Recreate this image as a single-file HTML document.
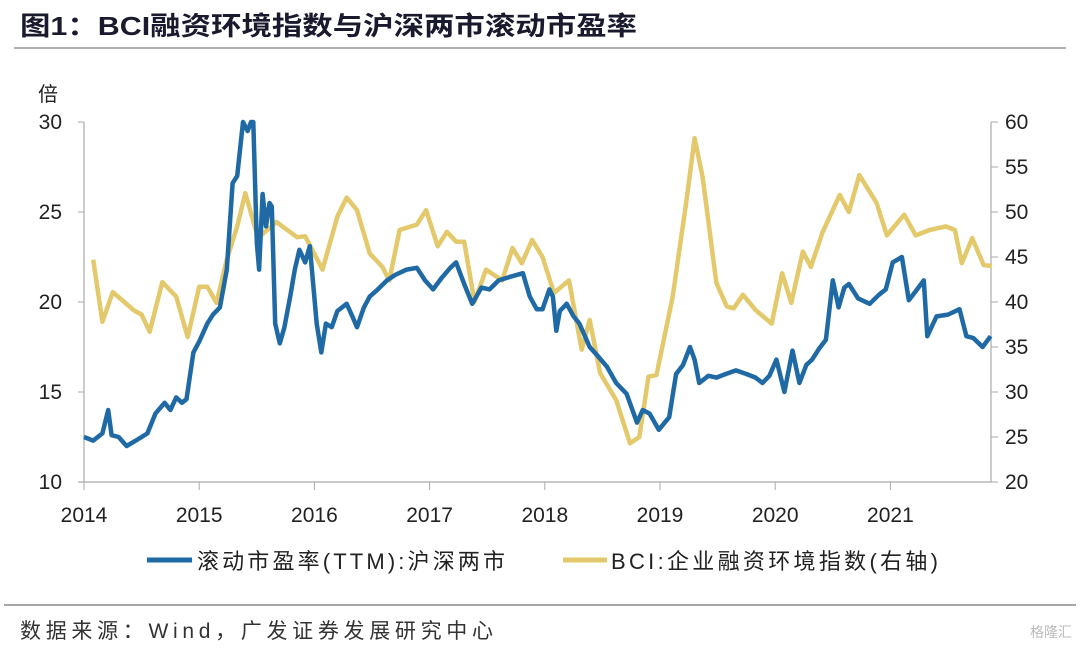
<!DOCTYPE html>
<html><head><meta charset="utf-8"><style>
body{margin:0;background:#fff;width:1080px;height:651px;overflow:hidden;font-family:"Liberation Sans","Noto Sans CJK SC",sans-serif;}
svg text{font-family:"Liberation Sans","Noto Sans CJK SC",sans-serif;}
</style></head><body>
<svg id="c" width="1080" height="651">
<text x="20" y="35" font-size="26" font-weight="bold" fill="#1a1a2e" textLength="617" lengthAdjust="spacingAndGlyphs">图1：BCI融资环境指数与沪深两市滚动市盈率</text>
<line x1="14" y1="48" x2="1066" y2="48" stroke="#999" stroke-width="1.5"/>
<text x="48" y="101" font-size="20" text-anchor="middle" fill="#222">倍</text>
<g id="axes"></g>
<g id="series"></g>
<line x1="147" y1="560" x2="192" y2="560" stroke="#1f6aa5" stroke-width="5"/>
<text x="197" y="569" font-size="22" fill="#222" textLength="308" lengthAdjust="spacing">滚动市盈率(TTM):沪深两市</text>
<line x1="563" y1="560" x2="607" y2="560" stroke="#e3c96b" stroke-width="5"/>
<text x="611" y="569" font-size="22" fill="#222" textLength="327" lengthAdjust="spacing">BCI:企业融资环境指数(右轴)</text>
<line x1="4" y1="605" x2="1076" y2="605" stroke="#888" stroke-width="1.5"/>
<text x="20" y="638" font-size="21" fill="#333" textLength="473" lengthAdjust="spacing">数据来源：Wind，广发证券发展研究中心</text>
<text x="1030" y="637" font-size="14" fill="#bbb">格隆汇</text>
</svg>
<script>
const yearTicks=[2014,2015,2016,2017,2018,2019,2020,2021];
const leftTicks=[10,15,20,25,30];
const rightTicks=[20,25,30,35,40,45,50,55,60];
const peDates=[2014.0,2014.08,2014.16,2014.21,2014.24,2014.3,2014.37,2014.45,2014.55,2014.62,2014.7,2014.75,2014.8,2014.85,2014.89,2014.95,2015.0,2015.07,2015.12,2015.18,2015.24,2015.29,2015.33,2015.38,2015.42,2015.45,2015.47,2015.5,2015.52,2015.55,2015.58,2015.61,2015.63,2015.66,2015.7,2015.74,2015.79,2015.83,2015.87,2015.92,2015.96,2016.02,2016.06,2016.1,2016.15,2016.2,2016.28,2016.33,2016.37,2016.43,2016.48,2016.55,2016.63,2016.7,2016.8,2016.89,2016.96,2017.03,2017.1,2017.18,2017.23,2017.3,2017.37,2017.45,2017.52,2017.6,2017.7,2017.81,2017.87,2017.93,2017.98,2018.04,2018.07,2018.1,2018.13,2018.19,2018.25,2018.3,2018.39,2018.46,2018.54,2018.62,2018.71,2018.8,2018.85,2018.91,2018.99,2019.08,2019.14,2019.2,2019.26,2019.3,2019.34,2019.42,2019.49,2019.57,2019.66,2019.75,2019.83,2019.89,2019.95,2020.01,2020.08,2020.15,2020.21,2020.27,2020.32,2020.38,2020.44,2020.5,2020.55,2020.6,2020.64,2020.72,2020.82,2020.9,2020.96,2021.02,2021.1,2021.16,2021.22,2021.29,2021.32,2021.4,2021.5,2021.6,2021.66,2021.72,2021.8,2021.87];
const peValues=[12.5,12.3,12.7,14.0,12.6,12.5,12.0,12.3,12.7,13.8,14.4,14.0,14.7,14.4,14.6,17.2,17.8,18.8,19.3,19.7,21.8,26.6,27.0,30.2,29.5,30.2,30.0,23.3,21.8,26.0,24.2,25.5,25.3,18.8,17.7,18.6,20.3,21.8,22.9,22.2,23.1,18.8,17.2,18.8,18.6,19.5,19.9,19.2,18.6,19.7,20.3,20.7,21.2,21.5,21.8,21.9,21.2,20.7,21.3,21.9,22.2,21.0,19.9,20.8,20.7,21.2,21.4,21.6,20.3,19.6,19.6,20.7,20.3,18.4,19.5,19.9,19.2,18.8,17.5,17.0,16.4,15.5,14.9,13.3,14.0,13.8,12.9,13.6,16.0,16.5,17.5,16.8,15.5,15.9,15.8,16.0,16.2,16.0,15.8,15.5,15.9,16.8,15.0,17.3,15.5,16.5,16.8,17.4,17.9,21.2,19.7,20.8,21.0,20.2,19.9,20.4,20.7,22.2,22.5,20.1,20.6,21.2,18.1,19.2,19.3,19.6,18.1,18.0,17.5,18.1];
const bciDates=[2014.08,2014.16,2014.25,2014.35,2014.43,2014.5,2014.57,2014.68,2014.8,2014.9,2015.0,2015.07,2015.15,2015.24,2015.33,2015.4,2015.51,2015.67,2015.85,2015.92,2016.07,2016.2,2016.28,2016.37,2016.48,2016.59,2016.65,2016.74,2016.89,2016.97,2017.07,2017.15,2017.23,2017.3,2017.39,2017.49,2017.63,2017.72,2017.8,2017.89,2017.98,2018.08,2018.21,2018.32,2018.39,2018.48,2018.62,2018.74,2018.82,2018.9,2018.97,2019.11,2019.23,2019.3,2019.37,2019.49,2019.58,2019.64,2019.72,2019.83,2019.97,2020.06,2020.14,2020.24,2020.31,2020.41,2020.56,2020.64,2020.73,2020.88,2020.97,2021.12,2021.22,2021.34,2021.48,2021.56,2021.62,2021.71,2021.81,2021.88];
const bciValues=[44.7,37.8,41.1,40.0,39.1,38.6,36.7,42.2,40.6,36.1,41.7,41.7,39.9,44.7,48.4,52.1,47.1,48.9,47.2,47.3,43.6,49.5,51.6,50.2,45.4,43.9,42.4,48.0,48.6,50.2,46.2,47.8,46.7,46.7,40.0,43.6,42.4,46.0,44.3,46.9,45.0,41.0,42.4,34.7,38.0,32.1,29.1,24.3,25.0,31.7,31.9,40.6,51.3,58.2,53.9,42.1,39.5,39.3,40.8,39.1,37.6,43.2,39.9,45.6,43.9,47.7,51.9,50.0,54.1,51.0,47.4,49.7,47.4,48.0,48.4,48.0,44.3,47.1,44.1,44.0];

const NS='http://www.w3.org/2000/svg';
const X0=84,Y0=482,YT=122;
const xs=d=>X0+(d-2014)*115.2;
const yl=v=>Y0-(v-10)*(Y0-YT)/20;
const yr=v=>Y0-(v-20)*(Y0-YT)/40;
function mk(tag,attrs,parent){const e=document.createElementNS(NS,tag);for(const k in attrs)e.setAttribute(k,attrs[k]);parent.appendChild(e);return e;}
const ax=document.getElementById('axes');
const g=document.getElementById('series');
let e;
e=mk('line',{x1:X0,y1:YT,x2:X0,y2:Y0,stroke:'#aaa','stroke-width':1.2},ax);


e=mk('line',{x1:991,y1:YT,x2:991,y2:Y0,stroke:'#aaa','stroke-width':1.2},ax);


e=mk('line',{x1:X0-6,y1:Y0,x2:991,y2:Y0,stroke:'#aaa','stroke-width':1.2},ax);


leftTicks.forEach(v=>{
  mk('line',{x1:X0-6,y1:yl(v),x2:X0,y2:yl(v),stroke:'#aaa'},ax);
  e=mk('text',{x:62,y:yl(v)+7,'font-size':21,'text-anchor':'end',fill:'#222'},ax);
  e.textContent=v;
  
  
});
rightTicks.forEach(v=>{
  mk('line',{x1:991,y1:yr(v),x2:998,y2:yr(v),stroke:'#aaa'},ax);
  e=mk('text',{x:1005,y:yr(v)+7,'font-size':21,fill:'#222'},ax);
  e.textContent=v;
  
  
});
yearTicks.forEach(v=>{
  mk('line',{x1:xs(v),y1:Y0,x2:xs(v),y2:Y0+8,stroke:'#aaa'},ax);
  e=mk('text',{x:xs(v),y:522,'font-size':21,'text-anchor':'middle',fill:'#222'},ax);
  e.textContent=v;
  
  
});
function path(d,v,yf){return d.map((t,i)=>(i?'L':'M')+xs(t).toFixed(1)+','+Math.max(YT,yf(v[i])).toFixed(1)).join('');}
e=mk('path',{d:path(bciDates,bciValues,yr),fill:'none',stroke:'#e3c96b','stroke-width':4.5,'stroke-linejoin':'round'},g);


e=mk('path',{d:path(peDates,peValues,yl),fill:'none',stroke:'#1f6aa5','stroke-width':4.5,'stroke-linejoin':'round'},g);


</script>
</body></html>
